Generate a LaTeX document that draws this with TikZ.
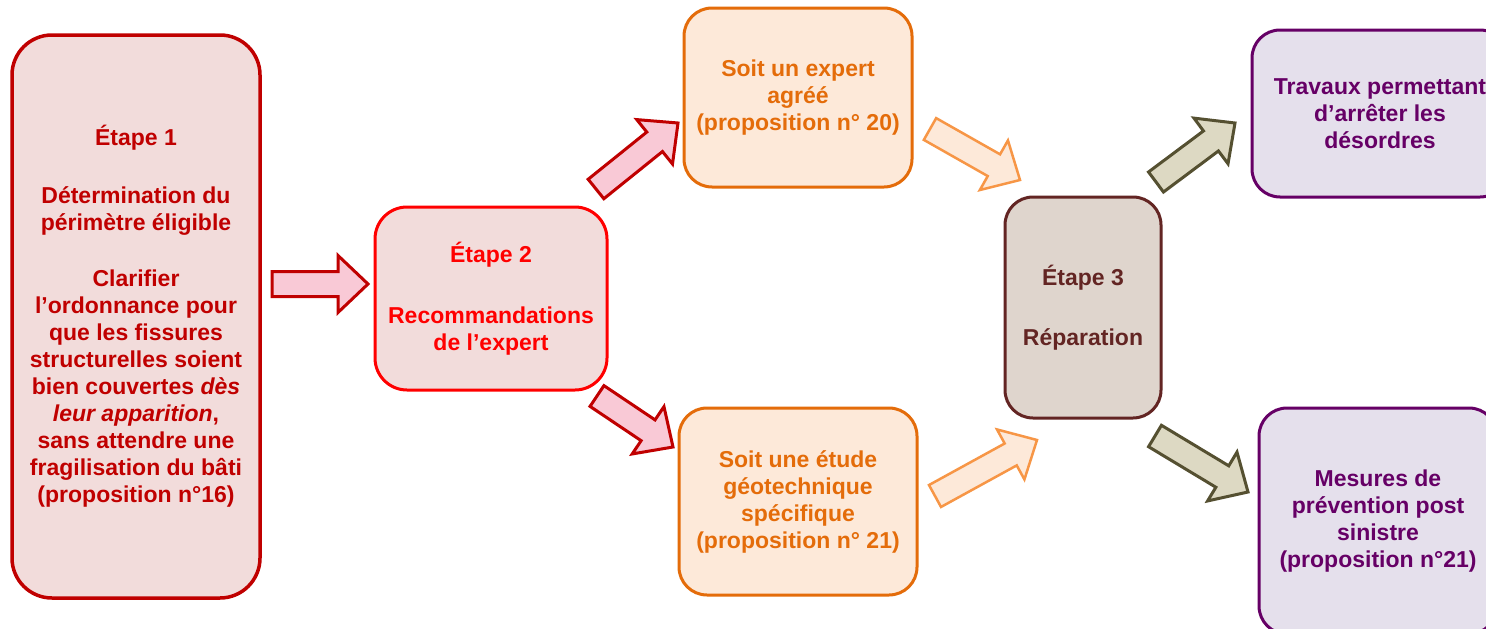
\documentclass[tikz,border=0pt]{standalone}
\usepackage{fontspec}
\setmainfont{Liberation Sans}
\usetikzlibrary{calc}
\definecolor{dred}{HTML}{C00000}
\definecolor{bred}{HTML}{FF0000}
\definecolor{pinkfill}{HTML}{F2DCDB}
\definecolor{pinkarrow}{HTML}{F9C9D6}
\definecolor{orgline}{HTML}{E46C0A}
\definecolor{orgfill}{HTML}{FDE9D9}
\definecolor{orgarrow}{HTML}{F79646}
\definecolor{brnline}{HTML}{632523}
\definecolor{brnfill}{HTML}{DFD5CD}
\definecolor{purline}{HTML}{660066}
\definecolor{purfill}{HTML}{E5E0EC}
\definecolor{olvline}{HTML}{555031}
\definecolor{olvfill}{HTML}{DDD9C3}
\tikzset{
  box/.style={rounded corners=28pt, line width=3pt, align=center, inner sep=0pt,
    font=\fontsize{23}{27}\selectfont\bfseries},
  redbox/.style={box, draw=dred, fill=pinkfill, text=dred, rounded corners=40pt, line width=3.5pt},
  brightbox/.style={box, draw=bred, fill=pinkfill, text=bred, rounded corners=32pt},
  orangebox/.style={box, draw=orgline, fill=orgfill, text=orgline},
  brownbox/.style={box, draw=brnline, fill=brnfill, text=brnline},
  purplebox/.style={box, draw=purline, fill=purfill, text=purline},
  pinkarr/.style={draw=dred, fill=pinkarrow, line width=3pt},
  orangearr/.style={draw=orgarrow, fill=orgfill, line width=2.5pt},
  olivearr/.style={draw=olvline, fill=olvfill, line width=3pt}
}
\newcommand\blockarrow[3][]{%
  \coordinate (bap) at ($(#3)!30pt!(#2)$);
  \draw[#1] ($(#2)!12.5pt!90:(#3)$) -- ($(bap)!12.5pt!90:(#3)$) -- ($(bap)!28.5pt!90:(#3)$)
    -- (#3) -- ($(bap)!28.5pt!-90:(#3)$) -- ($(bap)!12.5pt!-90:(#3)$)
    -- ($(#2)!12.5pt!-90:(#3)$) -- cycle;}
\begin{document}
\begin{tikzpicture}[x=1pt,y=-1pt]
\clip (0,0) rectangle (1486,629);
\fill[white] (0,0) rectangle (1486,629);

\node[redbox, minimum width=248pt, minimum height=563pt] (e1) at (136,316.5)
  {Étape 1\\[31pt]Détermination du\\périmètre éligible\\[29pt]Clarifier\\l’ordonnance pour\\que les fissures\\structurelles soient\\bien couvertes \textit{dès}\\\textit{leur apparition},\\sans attendre une\\fragilisation du bâti\\(proposition n°16)};
\node[brightbox, minimum width=232pt, minimum height=183pt] (e2) at (491,298.5)
  {Étape 2\\[34pt]Recommandations\\de l’expert};
\node[orangebox, minimum width=228pt, minimum height=179pt] (ex) at (798,97.5)
  {Soit un expert\\agréé\\(proposition n° 20)};
\node[orangebox, minimum width=238pt, minimum height=187pt] (geo) at (798,501.5)
  {Soit une étude\\géotechnique\\spécifique\\(proposition n° 21)};
\node[brownbox, minimum width=156pt, minimum height=221pt] (e3) at (1083,307.5)
  {Étape 3\\[33pt]Réparation};
\node[purplebox, minimum width=256pt, minimum height=167pt] (trav) at (1380,113.5)
  {Travaux permettant\\d’arrêter les\\désordres};
\node[purplebox, minimum width=238pt, minimum height=226pt] (mes) at (1378,521)
  {Mesures de\\prévention post\\sinistre\\(proposition n°21)};

\coordinate (a1s) at (272,284);  \coordinate (a1e) at (368,284);
\coordinate (a2s) at (596,189);  \coordinate (a2e) at (678,123);
\coordinate (a3s) at (597,396);  \coordinate (a3e) at (673,447);
\coordinate (a4s) at (930,129);  \coordinate (a4e) at (1020,180);
\coordinate (a5s) at (935,496);  \coordinate (a5e) at (1037,440);
\coordinate (a6s) at (1156,182); \coordinate (a6e) at (1235,123);
\coordinate (a7s) at (1155,436); \coordinate (a7e) at (1248,492);

\blockarrow[pinkarr]{a1s}{a1e}
\blockarrow[pinkarr]{a2s}{a2e}
\blockarrow[pinkarr]{a3s}{a3e}
\blockarrow[orangearr]{a4s}{a4e}
\blockarrow[orangearr]{a5s}{a5e}
\blockarrow[olivearr]{a6s}{a6e}
\blockarrow[olivearr]{a7s}{a7e}
\end{tikzpicture}
\end{document}
